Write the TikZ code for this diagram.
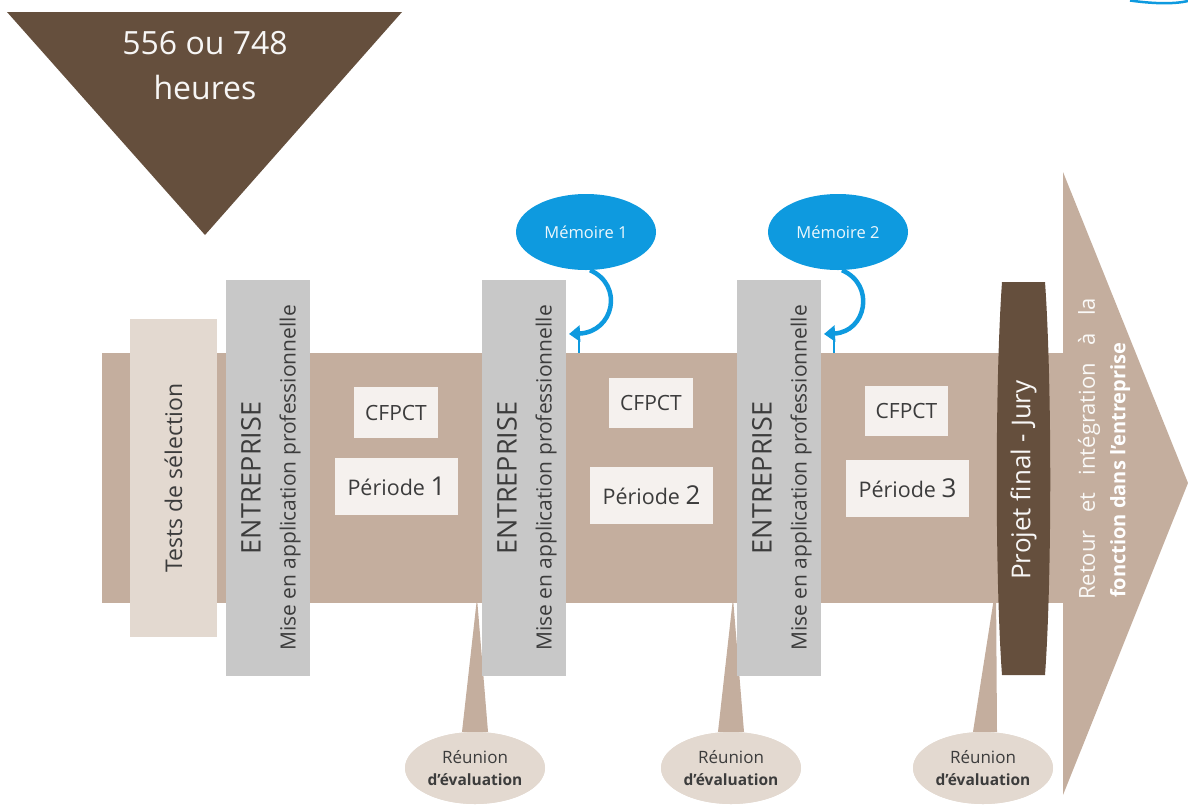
\documentclass[tikz,border=0pt]{standalone}
\usepackage{fontspec}
\setmainfont{Open Sans}
\usetikzlibrary{shapes.geometric,arrows.meta}
\definecolor{brownD}{HTML}{654F3D}
\definecolor{tanB}{HTML}{C4AE9E}
\definecolor{sand}{HTML}{E3D9D0}
\definecolor{grayB}{HTML}{C8C8C8}
\definecolor{cream}{HTML}{F5F1EE}
\definecolor{blueM}{HTML}{0E9ADF}
\definecolor{txt}{HTML}{3C3C3C}
\tikzset{
  entbox/.style={fill=grayB, minimum width=84pt, minimum height=396pt, inner sep=0pt},
  smallbox/.style={fill=cream, text=txt, inner sep=0pt},
  memo/.style={ellipse, fill=blueM, minimum width=140pt, minimum height=76pt, inner sep=0pt, text=white!92!blueM, font=\fontsize{16.5}{19}\selectfont},
  reun/.style={ellipse, fill=sand, minimum width=140pt, minimum height=72pt, inner sep=0pt, text=txt, align=center, font=\fontsize{17}{22}\selectfont},
  memarrow/.style={draw=blueM, line width=4.5pt, -{Triangle[width=16pt,length=11pt]}},
  pointer/.style={fill=tanB},
  vtxt/.style={rotate=90, text=txt, inner sep=0pt}
}
\begin{document}
\begin{tikzpicture}[x=1pt,y=-1pt]
\useasboundingbox (0,0) rectangle (1188,804);
% top triangle
\fill[brownD] (7,12) -- (402,12) -- (205,235) -- cycle;
\node[text=white!95!brownD, align=center, font=\fontsize{32}{45}\selectfont] (hours) at (205,66) {556 ou 748\\heures};
% main band and arrow
\fill[tanB] (102,353) rectangle (1064,603);
\fill[tanB] (1063,172) -- (1188,483) -- (1063,795) -- cycle;
% pointers to band
\coordinate (p1) at (477,598);
\coordinate (p2) at (733,598);
\coordinate (p3) at (996,585);
\node[reun] (r1) at (475,768) {};
\node[reun] (r2) at (731,768) {};
\node[reun] (r3) at (983,768) {};
\fill[pointer] ([xshift=-13pt]r1.north) -- (p1) -- ([xshift=13pt]r1.north) -- cycle;
\fill[pointer] ([xshift=-13pt]r2.north) -- (p2) -- ([xshift=13pt]r2.north) -- cycle;
\fill[pointer] ([xshift=-10pt]r3.north) -- (p3) -- ([xshift=14pt]r3.north) -- cycle;
\node[reun] at (r1) {Réunion\\\fontsize{15.5}{20}\selectfont\textbf{d’évaluation}};
\node[reun] at (r2) {Réunion\\\fontsize{15.5}{20}\selectfont\textbf{d’évaluation}};
\node[reun] at (r3) {Réunion\\\fontsize{15.5}{20}\selectfont\textbf{d’évaluation}};
% tests de selection
\node[fill=sand, minimum width=87pt, minimum height=318pt, inner sep=0pt] (tests) at (173.5,478) {};
\node[vtxt, font=\fontsize{23}{26}\selectfont] at (tests.center) {Tests de sélection};
% entreprise boxes
\foreach \n/\x in {e1/268, e2/524, e3/779}{
  \node[entbox] (\n) at (\x,478) {};
  \node[vtxt, font=\fontsize{27}{30}\selectfont] at (\x-17,478) {ENTREPRISE};
  \node[vtxt, font=\fontsize{21}{24}\selectfont] at (\x+22,478) {Mise en application professionnelle};
}
% CFPCT and periode boxes
\node[smallbox, minimum width=84pt, minimum height=51pt, font=\fontsize{21}{24}\selectfont] (c1) at (396,412.5) {CFPCT};
\node[smallbox, minimum width=84pt, minimum height=50pt, font=\fontsize{21}{24}\selectfont] (c2) at (651,403) {CFPCT};
\node[smallbox, minimum width=83pt, minimum height=50pt, font=\fontsize{21}{24}\selectfont] (c3) at (906.5,411) {CFPCT};
\node[smallbox, minimum width=123pt, minimum height=57pt, font=\fontsize{21.5}{24}\selectfont] (q1) at (396.5,486.5) {Période \fontsize{26}{28}\selectfont 1};
\node[smallbox, minimum width=123pt, minimum height=57pt, font=\fontsize{21.5}{24}\selectfont] (q2) at (651.5,495.5) {Période \fontsize{26}{28}\selectfont 2};
\node[smallbox, minimum width=123pt, minimum height=57pt, font=\fontsize{21.5}{24}\selectfont] (q3) at (907.5,488.5) {Période \fontsize{26}{28}\selectfont 3};
% memoire bubbles
\node[memo] (m1) at (586,232) {Mémoire 1};
\node[memo] (m2) at (838,232) {Mémoire 2};
\coordinate (t1) at (569,334);
\coordinate (t2) at (824,334);
\draw[memarrow] ([xshift=4pt]m1.south) .. controls (624,285) and (614,332) .. (t1);
\draw[memarrow] ([xshift=4pt]m2.south) .. controls (876,285) and (866,332) .. (t2);
\draw[blueM, line width=2pt] ([xshift=10pt]t1) -- ++(0,19);
\draw[blueM, line width=2pt] ([xshift=10pt]t2) -- ++(0,19);
% projet final pill
\fill[brownD] (1002,282) -- (1045,282) .. controls (1052,380) and (1052,580) .. (1045,675) -- (1002,675) .. controls (995,580) and (995,380) .. (1002,282) -- cycle;
\node[rotate=90, text=white!95!brownD, inner sep=0pt, font=\fontsize{26}{30}\selectfont] (pf) at (1023.5,480) {Projet final - Jury};
% arrow text
\node[rotate=90, anchor=west, text=white!92!tanB, inner sep=0pt, font=\fontsize{22}{26}\selectfont] (ret1) at (1089,600) {\makebox[302pt][s]{Retour et intégration à la}};
\node[rotate=90, anchor=west, text=white, inner sep=0pt, font=\fontsize{20}{24}\selectfont\bfseries] (ret2) at (1120,598) {fonction dans l’entreprise};
% top right blue fragment
\draw[blueM, line width=2.5pt] (1130,0.5) .. controls (1155,4) and (1175,4) .. (1188,1);
\end{tikzpicture}
\end{document}
